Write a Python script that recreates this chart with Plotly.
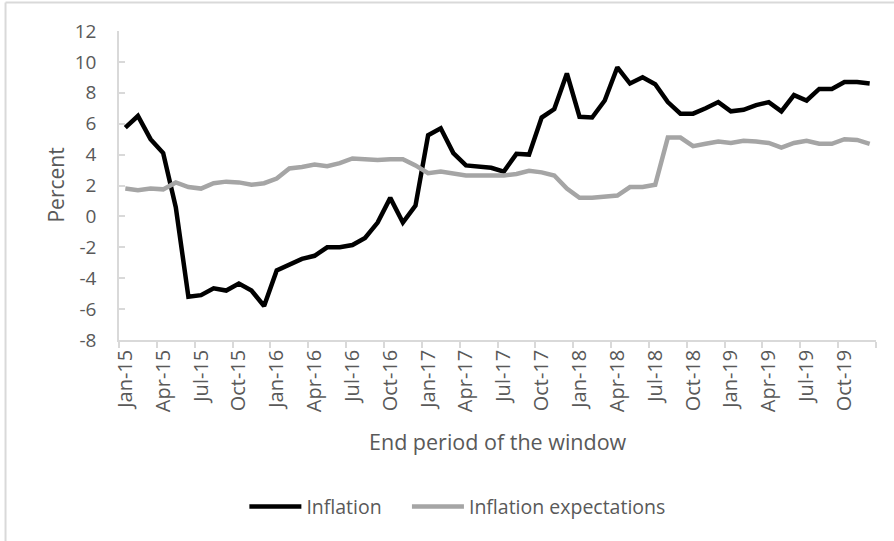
import pandas as pd
import plotly.graph_objects as go

months = [d.strftime("%b-%y") for d in pd.date_range("2015-01-01", "2019-12-01", freq="MS")]

inflation = [
    5.75, 6.5, 5.0, 4.1, 0.6, -5.2, -5.1, -4.65, -4.8, -4.35,
    -4.8, -5.8, -3.5, -3.1, -2.75, -2.55, -2.0, -2.0, -1.85, -1.4,
    -0.4, 1.2, -0.4, 0.7, 5.25, 5.7, 4.1, 3.3, 3.2, 3.15,
    2.9, 4.05, 4.0, 6.4, 6.95, 9.25, 6.45, 6.4, 7.5, 9.65,
    8.6, 9.0, 8.55, 7.4, 6.65, 6.65, 7.0, 7.4, 6.8, 6.9,
    7.2, 7.4, 6.8, 7.85, 7.5, 8.25, 8.25, 8.7, 8.7, 8.6,
]

expectations = [
    1.8, 1.7, 1.8, 1.75, 2.2, 1.9, 1.8, 2.15, 2.25, 2.2,
    2.05, 2.15, 2.45, 3.1, 3.2, 3.35, 3.25, 3.45, 3.75, 3.7,
    3.65, 3.7, 3.7, 3.3, 2.8, 2.9, 2.8, 2.65, 2.65, 2.65,
    2.65, 2.75, 2.95, 2.85, 2.65, 1.8, 1.2, 1.2, 1.25, 1.35,
    1.9, 1.9, 2.05, 5.1, 5.1, 4.55, 4.7, 4.85, 4.75, 4.9,
    4.85, 4.75, 4.45, 4.75, 4.9, 4.7, 4.7, 5.0, 4.95, 4.7,
]

series_names = ["Inflation", "Inflation expectations"]
y_ticks = list(range(-8, 13, 2))
y_ticktext = [str(v) for v in y_ticks]

FONT = "Open Sans"
TXT = "#595959"
AX = "#D9D9D9"
PAD = "\u00a0" * 4  # extra spacing after the first legend entry

fig = go.Figure()
fig.add_trace(go.Scatter(x=months, y=inflation, name=series_names[0] + PAD, mode="lines",
                         line=dict(color="#000000", width=4.5)))
fig.add_trace(go.Scatter(x=months, y=expectations, name=series_names[1], mode="lines",
                         line=dict(color="#A5A5A5", width=4.5)))

fig.update_layout(
    width=894, height=541,
    margin=dict(l=119, r=18, t=31, b=201, pad=0),
    paper_bgcolor="white", plot_bgcolor="white",
    font=dict(family=FONT, color=TXT, size=18),
    showlegend=True,
    legend=dict(orientation="h", x=0.447, y=-0.54, xanchor="center", yanchor="middle",
                itemwidth=52,
                font=dict(size=19.5, color=TXT), bgcolor="rgba(0,0,0,0)"),
    xaxis=dict(type="category", range=[-0.5, len(months) - 0.5],
               tickmode="linear", tick0=0, dtick=3, tickson="boundaries",
               tickangle=-90, showgrid=False, zeroline=False,
               showline=True, linecolor=AX, linewidth=1.5,
               ticks="outside", ticklen=6, tickcolor=AX, tickwidth=1.5,
               tickfont=dict(size=20, color=TXT)),
    yaxis=dict(range=[-8, 12], tickmode="array", tickvals=y_ticks, ticktext=y_ticktext,
               showgrid=False, zeroline=False,
               showline=True, linecolor=AX, linewidth=1.5,
               ticks="inside", ticklen=6, tickcolor=AX, tickwidth=1.5,
               ticklabelstandoff=17,
               tickfont=dict(size=19, color=TXT)),
    annotations=[
        dict(text="Percent", xref="paper", yref="paper", x=-0.0845, y=0.5,
             textangle=-90, showarrow=False, font=dict(size=21, color=TXT),
             xanchor="center", yanchor="middle"),
        dict(text="End period of the window", xref="paper", yref="paper", x=0.5, y=-0.327,
             showarrow=False, font=dict(size=21.5, color=TXT),
             xanchor="center", yanchor="middle"),
    ],
    shapes=[
        dict(type="line", xref="paper", yref="paper", x0=-0.1499, x1=-0.1499, y0=-0.66, y1=1.092,
             line=dict(color=AX, width=2), layer="above"),
        dict(type="line", xref="paper", yref="paper", x0=-0.1499, x1=1.03, y0=1.092, y1=1.092,
             line=dict(color=AX, width=2), layer="above"),
    ],
)

fig.write_html("out.html", config={"displayModeBar": False},
               post_script="document.body.style.margin='0';document.body.style.overflow='hidden';")
